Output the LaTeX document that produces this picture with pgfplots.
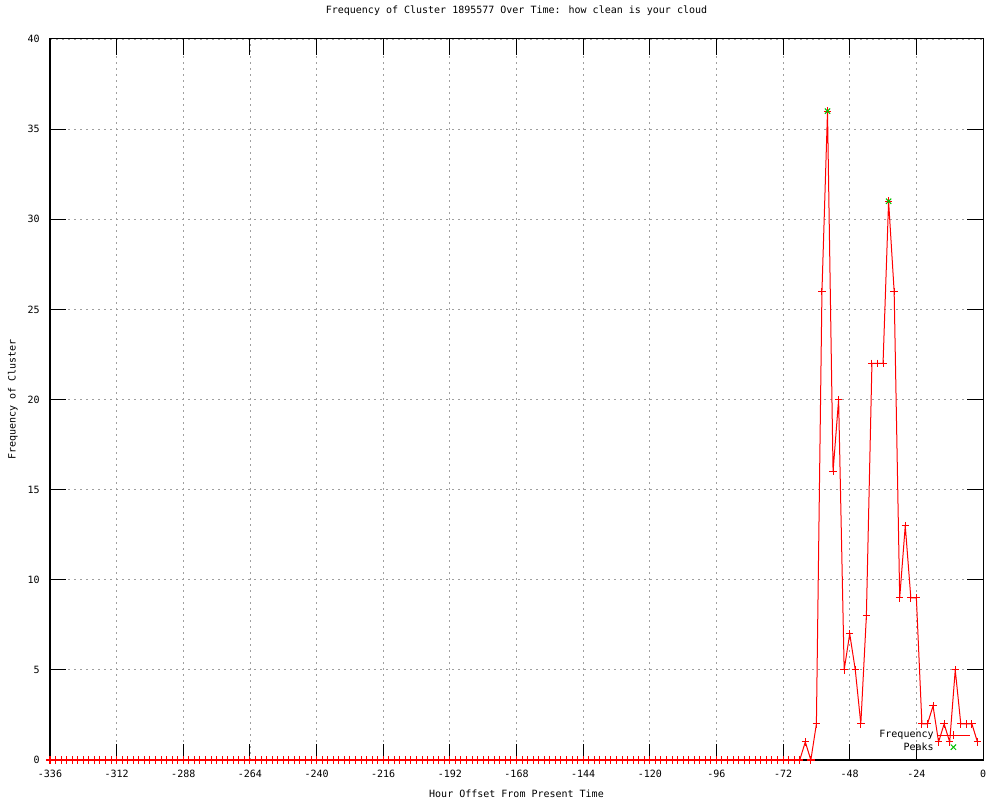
\documentclass[border=0pt]{standalone}
\usepackage{pgfplots}
\pgfplotsset{compat=1.18}
\usepackage{fontspec}
\setmainfont{DejaVu Sans Mono}
\definecolor{gpred}{RGB}{255,0,0}
\definecolor{gpgreen}{RGB}{0,192,0}
\begin{document}
\begin{tikzpicture}
\useasboundingbox (-37.5pt,-30pt) rectangle (712.5pt,570pt);
\begin{axis}[
  at={(0,0)}, anchor=south west,
  scale only axis, width=699.75pt, height=540.75pt,
  xmin=-336, xmax=0, ymin=0, ymax=40,
  xtick={-336,-312,...,0}, ytick={0,5,...,40},
  font=\fontsize{7.5pt}{9pt}\selectfont,
  /pgf/number format/assume math mode=true,
  axis line style={black, line width=0.75pt},
  tick style={black, line width=0.75pt},
  major tick length=12pt, tick align=inside,
  grid=major,
  major grid style={gray!75, line width=0.6pt, dash pattern=on 1.5pt off 3pt},
  xticklabel style={anchor=base, yshift=-12.75pt, inner sep=0pt},
  yticklabel style={anchor=east, xshift=-7.5pt, inner sep=0pt},
  title={Frequency of Cluster 1895577 Over Time: how clean is your cloud},
  title style={at={(axis description cs:0.5,1)}, anchor=base, yshift=13pt, inner sep=0pt},
  xlabel={Hour Offset From Present Time},
  xlabel style={at={(axis description cs:0.5,0)}, anchor=base, yshift=-27.75pt, inner sep=0pt},
  ylabel={Frequency of Cluster},
  ylabel style={at={(axis description cs:-0.0397,0.5)}, anchor=center, inner sep=0pt},
  legend style={at={(axis description cs:0.987,0.007)}, anchor=south east, draw=none, fill=none,
    inner sep=0pt, row sep=-2pt, legend plot pos=right, cells={anchor=east},
    /tikz/every even column/.append style={column sep=6pt}},
  legend image code/.code={\draw[#1,mark repeat=2,mark phase=2] plot coordinates {(0pt,0pt)(12.5pt,0pt)(25pt,0pt)};},
]
\addplot[gpred, line width=0.75pt, mark=+, mark size=2.8pt, mark options={solid, gpred, line width=0.75pt}] coordinates {
(-336,0)(-334,0)(-332,0)(-330,0)(-328,0)(-326,0)(-324,0)(-322,0)(-320,0)(-318,0)
(-316,0)(-314,0)(-312,0)(-310,0)(-308,0)(-306,0)(-304,0)(-302,0)(-300,0)(-298,0)
(-296,0)(-294,0)(-292,0)(-290,0)(-288,0)(-286,0)(-284,0)(-282,0)(-280,0)(-278,0)
(-276,0)(-274,0)(-272,0)(-270,0)(-268,0)(-266,0)(-264,0)(-262,0)(-260,0)(-258,0)
(-256,0)(-254,0)(-252,0)(-250,0)(-248,0)(-246,0)(-244,0)(-242,0)(-240,0)(-238,0)
(-236,0)(-234,0)(-232,0)(-230,0)(-228,0)(-226,0)(-224,0)(-222,0)(-220,0)(-218,0)
(-216,0)(-214,0)(-212,0)(-210,0)(-208,0)(-206,0)(-204,0)(-202,0)(-200,0)(-198,0)
(-196,0)(-194,0)(-192,0)(-190,0)(-188,0)(-186,0)(-184,0)(-182,0)(-180,0)(-178,0)
(-176,0)(-174,0)(-172,0)(-170,0)(-168,0)(-166,0)(-164,0)(-162,0)(-160,0)(-158,0)
(-156,0)(-154,0)(-152,0)(-150,0)(-148,0)(-146,0)(-144,0)(-142,0)(-140,0)(-138,0)
(-136,0)(-134,0)(-132,0)(-130,0)(-128,0)(-126,0)(-124,0)(-122,0)(-120,0)(-118,0)
(-116,0)(-114,0)(-112,0)(-110,0)(-108,0)(-106,0)(-104,0)(-102,0)(-100,0)(-98,0)
(-96,0)(-94,0)(-92,0)(-90,0)(-88,0)(-86,0)(-84,0)(-82,0)(-80,0)(-78,0)
(-76,0)(-74,0)(-72,0)(-70,0)(-68,0)(-66,0)
(-64,1)(-62,0)(-60,2)(-58,26)(-56,36)(-54,16)(-52,20)(-50,5)(-48,7)(-46,5)
(-44,2)(-42,8)(-40,22)(-38,22)(-36,22)(-34,31)(-32,26)(-30,9)(-28,13)(-26,9)
(-24,9)(-22,2)(-20,2)(-18,3)(-16,1)(-14,2)(-12,1)(-10,5)(-8,2)(-6,2)
(-4,2)(-2,1)
};
\addlegendentry{Frequency}
\addplot[only marks, gpgreen, mark=x, mark size=2.8pt, mark options={line width=0.75pt}] coordinates {
(-56,36)(-34,31)
};
\addlegendentry{Peaks}
\end{axis}
\end{tikzpicture}
\end{document}
